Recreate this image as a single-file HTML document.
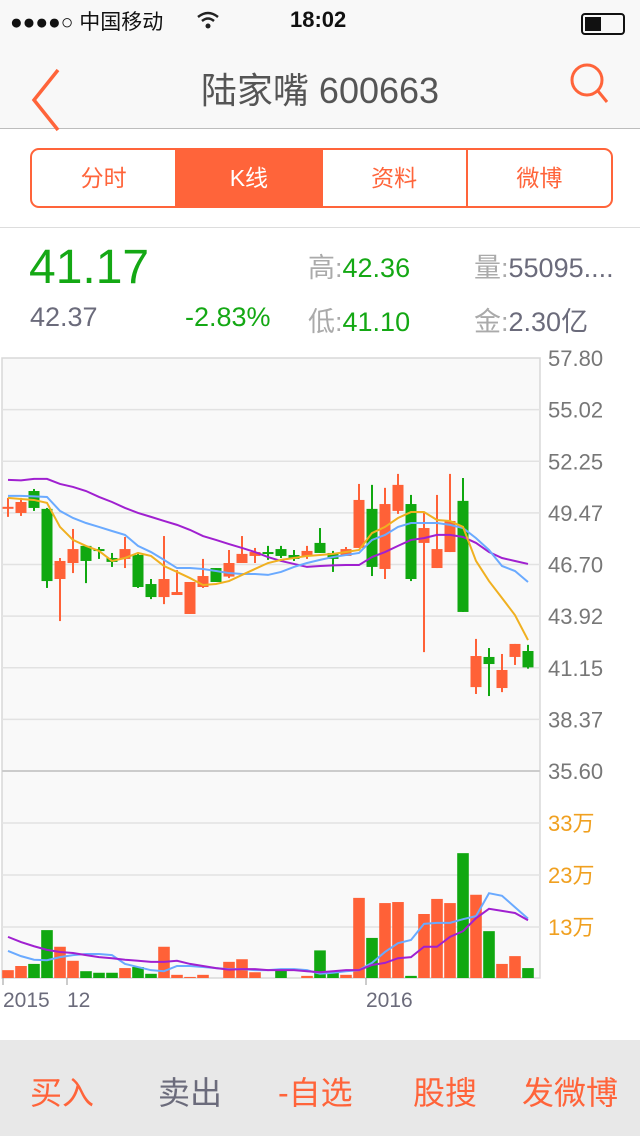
<!DOCTYPE html>
<html><head><meta charset="utf-8">
<style>
*{margin:0;padding:0;box-sizing:border-box}
body{width:640px;height:1136px;overflow:hidden;background:#fff;font-family:"Liberation Sans","Noto Sans CJK SC",sans-serif;position:relative}
.abs{position:absolute;white-space:nowrap}
#top{position:absolute;left:0;top:0;width:640px;height:129px;background:#f8f8f8;border-bottom:1px solid #bdbdbd}
#tabs{position:absolute;left:30px;top:148px;width:583px;height:60px;border:2px solid #ff643a;border-radius:9px;display:flex;overflow:hidden}
#tabs div{flex:1;text-align:center;line-height:56px;font-size:23px;color:#ff643a;border-right:2px solid #ff643a}
#tabs div:last-child{border-right:none}
#tabs .on{background:#ff643a;color:#fff}
#sep{position:absolute;left:0;top:227px;width:640px;height:1px;background:#ddd}
#bar{position:absolute;left:0;top:1040px;width:640px;height:96px;background:#e8e8e8}
#bar span{position:absolute;top:28px;font-size:32px;color:#ff643a}
</style></head><body>
<div id="top">
  <div class="abs" style="left:10px;top:6px;font-size:21px;color:#111">●●●●○ 中国移动</div>
  <svg class="abs" style="left:196px;top:10px" width="24" height="20"><path d="M2 7 Q12 -1 22 7" stroke="#222" stroke-width="2.5" fill="none"/><path d="M6 11 Q12 6 18 11" stroke="#222" stroke-width="2.5" fill="none"/><circle cx="12" cy="16" r="2.5" fill="#222"/></svg>
  <div class="abs" style="left:290px;top:7px;font-size:22px;font-weight:bold;color:#111">18:02</div>
  <div class="abs" style="left:581px;top:13px;width:44px;height:22px;border:2px solid #111;border-radius:4px"><div style="width:16px;height:14px;margin:2px;background:#111"></div></div>
  <svg class="abs" style="left:28px;top:62px" width="40" height="70"><path d="M30 8 L6 38 L30 68" stroke="#ff643a" stroke-width="3.5" fill="none"/></svg>
  <div class="abs" style="left:0;width:640px;text-align:center;top:62px;font-size:36px;color:#555">陆家嘴 600663</div>
  <svg class="abs" style="left:565px;top:60px" width="50" height="50"><circle cx="22" cy="20" r="15" stroke="#ff643a" stroke-width="3" fill="none"/><line x1="33" y1="31" x2="42" y2="42" stroke="#ff643a" stroke-width="3"/></svg>
</div>
<div id="tabs">
  <div>分时</div>
  <div class="on">K线</div>
  <div>资料</div>
  <div>微博</div>
</div>
<div id="sep"></div>
<div class="abs" style="left:29px;top:240px;font-size:48px;color:#14a814">41.17</div>
<div class="abs" style="left:30px;top:302px;font-size:27px;color:#6b6b7b">42.37</div>
<div class="abs" style="left:185px;top:302px;font-size:27px;color:#14a814">-2.83%</div>
<div class="abs" style="left:308px;top:246px;font-size:27px;color:#aaa">高:<span style="color:#14a814">42.36</span></div>
<div class="abs" style="left:308px;top:300px;font-size:27px;color:#aaa">低:<span style="color:#14a814">41.10</span></div>
<div class="abs" style="left:474px;top:246px;font-size:27px;color:#aaa">量:<span style="color:#6b6b7b">55095....</span></div>
<div class="abs" style="left:474px;top:300px;font-size:27px;color:#aaa">金:<span style="color:#6b6b7b">2.30亿</span></div>

<svg id="chart" class="abs" style="left:0;top:0" width="640" height="1040"></svg>

<div id="bar">
  <span style="left:30px">买入</span>
  <span style="left:158px;color:#6b6b7b">卖出</span>
  <span style="left:278px">-自选</span>
  <span style="left:413px">股搜</span>
  <span style="left:522px">发微博</span>
</div>
<script>
const opens=[49.77,49.47,50.65,49.69,45.92,46.78,47.70,47.53,47.05,47.00,47.21,45.65,44.95,45.06,44.04,45.49,46.51,46.05,46.78,47.16,47.37,47.53,47.21,47.16,47.86,47.32,47.16,47.59,49.69,46.46,49.58,49.95,47.86,46.51,47.37,50.12,40.11,41.73,40.06,41.73,42.05];
const highs=[50.28,50.28,50.76,49.74,47.05,48.61,47.70,47.64,47.32,48.18,47.32,45.92,48.23,46.40,45.76,47.00,46.51,47.48,48.23,47.59,47.70,47.70,47.48,47.70,48.66,47.43,47.64,51.03,50.98,50.82,51.57,50.44,49.52,50.44,51.57,51.35,42.70,42.21,41.89,42.43,42.38];
const lows=[49.26,49.31,49.58,45.44,43.66,46.24,45.70,47.00,46.57,46.51,45.44,44.84,44.57,45.06,44.04,45.44,45.76,45.97,46.78,46.78,46.95,47.05,46.89,47.00,47.32,46.30,47.16,47.59,46.08,45.92,49.42,45.81,41.99,46.51,47.37,44.15,39.74,39.63,39.84,41.30,41.10];
const closes=[49.80,50.06,49.74,45.81,46.89,47.53,46.89,47.48,46.84,47.53,45.49,44.95,45.92,45.22,45.76,46.08,45.76,46.78,47.27,47.37,47.32,47.16,47.00,47.43,47.32,47.00,47.53,50.17,46.57,49.95,50.98,45.92,48.66,47.53,49.04,44.15,41.78,41.35,41.03,42.43,41.17];
const ma5=[50.28,50.22,50.17,50.01,48.72,48.02,47.70,47.43,46.89,47.05,47.32,47.16,46.62,46.30,45.97,45.60,45.65,45.81,46.14,46.46,46.78,46.95,47.05,47.16,47.21,47.27,47.37,47.48,48.39,48.72,49.20,49.52,49.52,49.09,49.04,48.72,46.89,45.81,44.90,43.98,42.64];
const ma10=[50.39,50.39,50.36,50.33,49.58,49.20,48.93,48.72,48.50,48.29,47.70,47.37,46.95,46.51,46.51,46.46,46.35,46.24,46.19,46.19,46.14,46.30,46.57,46.78,46.95,47.10,47.21,47.32,48.02,48.29,48.72,48.93,48.93,48.93,48.83,48.66,48.12,47.48,46.62,46.35,45.76];
const ma20=[51.25,51.22,51.30,51.30,51.03,50.87,50.65,50.33,50.06,49.74,49.47,49.26,49.04,48.83,48.56,48.23,48.02,47.80,47.59,47.37,47.10,46.89,46.73,46.57,46.62,46.65,46.67,46.67,47.10,47.37,47.70,48.02,48.12,48.29,48.29,48.18,47.86,47.37,47.05,46.89,46.73];
const volumes=[4.7,5.5,5.9,12.4,9.2,6.5,4.5,4.2,4.2,5.1,5.3,4.0,9.2,3.8,3.4,3.8,3.0,6.3,6.8,4.3,3.1,4.7,3.1,3.6,8.5,4.2,3.8,18.6,10.9,17.6,17.8,3.6,15.5,18.4,17.6,27.2,19.2,12.2,5.9,7.4,5.1];
const volMa5=[8.4,7.4,6.7,6.6,7.2,7.6,7.8,7.8,7.6,5.9,5.3,4.7,4.5,5.5,5.5,5.3,5.1,4.9,4.9,4.7,4.7,4.9,4.9,4.7,4.0,4.2,4.5,4.7,6.1,8.2,9.9,10.5,13.6,13.8,13.8,14.5,15.1,19.5,19.0,16.8,14.6];
const volMa10=[11.1,10.1,9.3,8.6,8.2,8.0,7.6,7.2,7.0,6.7,6.5,6.3,6.3,6.5,5.9,5.5,5.1,4.8,4.9,4.9,4.7,4.7,4.7,4.5,4.3,4.5,4.7,4.7,5.7,6.1,7.0,7.2,9.2,9.2,11.1,12.2,14.7,16.5,16.1,15.7,14.3];
const priceTicks=["57.80","55.02","52.25","49.47","46.70","43.92","41.15","38.37","35.60"];
const volTicks=["33万","23万","13万"];
const volTickValues=[33,23,13];
const dateLabels=["2015","12","2016"];
const dateIndex=[0,5,28];

const NS="http://www.w3.org/2000/svg";
const svg=document.getElementById('chart');
const RED="#ff6137",GREEN="#10a810";
const pTop=358,pBot=771,pMax=57.8,pMin=35.6;
function xc(i){return 8+13*i;}
function py(p){return pTop+(pMax-p)*(pBot-pTop)/(pMax-pMin);}
function vy(v){return 927-(v-13)*5.2;}
const vBase=978;
function mk(tag,attrs){const e=document.createElementNS(NS,tag);for(const k in attrs)e.setAttribute(k,attrs[k]);svg.appendChild(e);return e;}

let bg=mk('rect',{x:2,y:358,width:538,height:620,fill:'#f9f9f9',stroke:'#d8d8d8','stroke-width':1.5});


priceTicks.forEach((t,k)=>{
  const y=pTop+k*(pBot-pTop)/(priceTicks.length-1);
  if(k>0){const g=mk('line',{x1:2,x2:540,y1:y,y2:y,stroke:k===priceTicks.length-1?'#ccc':'#e2e2e2','stroke-width':k===priceTicks.length-1?2:1.5});
  
  }
  const tx=mk('text',{x:548,y:y+8,'font-size':22,fill:'#777','font-family':'Liberation Sans'});tx.textContent=t;
  
  
});
volTicks.forEach((t,k)=>{
  const y=vy(volTickValues[k]);
  const g=mk('line',{x1:2,x2:540,y1:y,y2:y,stroke:'#e2e2e2','stroke-width':1.5});
  
  
  const tx=mk('text',{x:548,y:y+8,'font-size':22,fill:'#f0a020','font-family':'Liberation Sans, Noto Sans CJK SC, sans-serif'});tx.textContent=t;
  
  
});
function line(arr,fn,color,name){
  const pts=arr.map((v,i)=>xc(i)+','+fn(v)).join(' ');
  const l=mk('polyline',{points:pts,fill:'none',stroke:color,'stroke-width':2});
  
  
}
volumes.forEach((v,i)=>{
  const up=closes[i]>=opens[i];
  const y=vy(v);
  const r=mk('rect',{x:xc(i)-5.8,y:y,width:11.6,height:Math.max(0,vBase-y),fill:up?RED:GREEN});
  
  
});
line(volMa5,vy,'#6aaaff','volume-ma5-line');
line(volMa10,vy,'#a020d0','volume-ma10-line');
opens.forEach((o,i)=>{
  const c=closes[i],up=c>=o,col=up?RED:GREEN;
  const w=mk('line',{x1:xc(i),x2:xc(i),y1:py(highs[i]),y2:py(lows[i]),stroke:col,'stroke-width':2});
  
  
  const t=py(Math.max(o,c)),b=py(Math.min(o,c));
  const r=mk('rect',{x:xc(i)-5.5,y:t,width:11,height:Math.max(2,b-t),fill:col});
  
  
});
line(ma20,py,'#a020d0','ma20-line');
line(ma10,py,'#6aaaff','ma10-line');
line(ma5,py,'#f0b020','ma5-line');
dateLabels.forEach((d,k)=>{
  const x=k===0?3:xc(dateIndex[k])-6;
  const tk=mk('line',{x1:x,x2:x,y1:978,y2:985,stroke:'#999','stroke-width':1});
  
  
  const tx=mk('text',{x:x,y:1007,'font-size':21,fill:'#6b6b7b','font-family':'Liberation Sans'});tx.textContent=d;
  
  
});
</script>
</body></html>
